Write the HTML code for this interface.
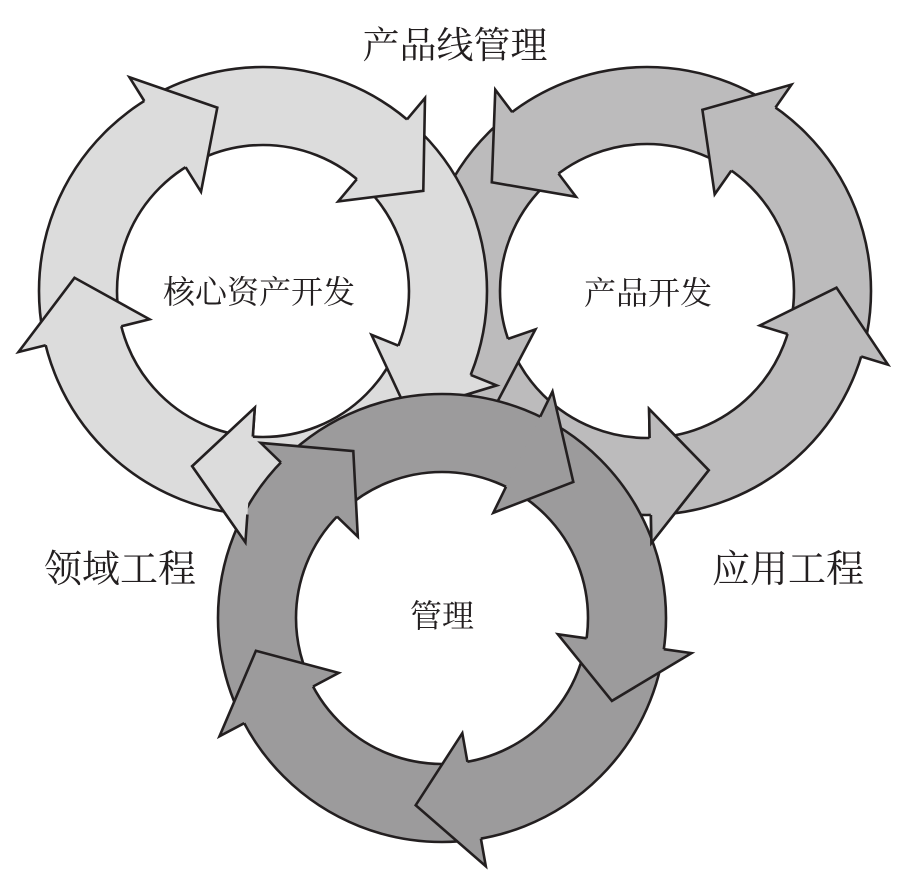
<!DOCTYPE html>
<html><head><meta charset="utf-8">
<style>
html,body{margin:0;padding:0;background:#fff;}
svg{display:block;}
text{font-family:"Liberation Serif","Noto Serif CJK SC",serif;fill:#231f20;}
</style></head>
<body>
<svg id="s" width="917" height="882" viewBox="0 0 917 882" xmlns="http://www.w3.org/2000/svg">
<g id="g"></g>
<text x="455" y="58" font-size="37" text-anchor="middle">产品线管理</text>
<text x="120" y="582" font-size="38" text-anchor="middle">领域工程</text>
<text x="788" y="582" font-size="38" text-anchor="middle">应用工程</text>
<text x="259" y="303" font-size="32" text-anchor="middle">核心资产开发</text>
<text x="648" y="304" font-size="32" text-anchor="middle">产品开发</text>
<text x="442" y="627" font-size="32" text-anchor="middle">管理</text>
</svg>
<script>
var NS="http://www.w3.org/2000/svg";
var g=document.getElementById("g");
var STROKE="#231f20",SW=2.6;
var rings={
 L:{cx:263,cy:291,ri:146,ro:224,fill:"#dcdcdc",dir:1,tips:[-104,-32,40,112,184]},
 R:{cx:647,cy:291,ri:147,ro:224,fill:"#bcbbbc",dir:-1,tips:[215,143,71,-1,-73]},
 B:{cx:442,cy:618,ri:146,ro:224,fill:"#9c9b9c",dir:1,tips:[-118,-46,26,98,170]}
};
function pt(r,rad,a){a=a*Math.PI/180;return [(r.cx+rad*Math.cos(a)).toFixed(1),(r.cy+rad*Math.sin(a)).toFixed(1)];}
function el(n,at){var e=document.createElementNS(NS,n);for(var k in at)e.setAttribute(k,at[k]);g.appendChild(e);return e;}
function annulus(r){
 var d="M"+(r.cx-r.ro)+","+r.cy+"a"+r.ro+","+r.ro+" 0 1,0 "+(2*r.ro)+",0a"+r.ro+","+r.ro+" 0 1,0 "+(-2*r.ro)+",0Z"+
       "M"+(r.cx-r.ri)+","+r.cy+"a"+r.ri+","+r.ri+" 0 1,0 "+(2*r.ri)+",0a"+r.ri+","+r.ri+" 0 1,0 "+(-2*r.ri)+",0Z";
 el("path",{d:d,fill:r.fill,"fill-rule":"evenodd",stroke:STROKE,"stroke-width":SW});
}
function head(r,i){
 var t=r.tips[i],b=t-18*r.dir;
 var mid=(r.ri+r.ro)/2+4;
 var p=[pt(r,r.ro,b),pt(r,r.ro+28,b),pt(r,mid,t),pt(r,r.ri-29,b),pt(r,r.ri,b)];
 var s=p.map(function(q){return q.join(",");}).join(" ");
 el("polygon",{points:s,fill:r.fill,stroke:"none"});
 el("polyline",{points:s,fill:"none",stroke:STROKE,"stroke-width":SW,"stroke-linejoin":"miter"});
}
function heads(r){for(var i=0;i<5;i++)head(r,i);}
annulus(rings.R);heads(rings.R);
annulus(rings.L);heads(rings.L);
annulus(rings.B);
head(rings.L,3);
head(rings.R,2);
heads(rings.B);
</script>
</body></html>
